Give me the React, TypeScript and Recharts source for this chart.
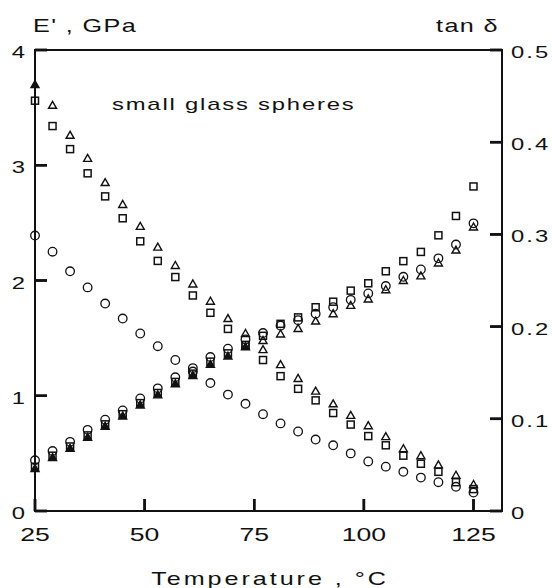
import React from "react";
import { ScatterChart, Scatter, XAxis, YAxis, ReferenceLine } from "recharts";

// Temperature, °C
const temps = [25, 29, 33, 37, 41, 45, 49, 53, 57, 61, 65, 69, 73, 77, 81, 85, 89, 93, 97, 101, 105, 109, 113, 117, 121, 125];

// E', GPa
const eTriangle = [3.70, 3.52, 3.26, 3.06, 2.85, 2.66, 2.47, 2.29, 2.13, 1.97, 1.82, 1.67, 1.54, 1.40, 1.27, 1.15, 1.04, 0.93, 0.83, 0.74, 0.645, 0.54, 0.48, 0.40, 0.31, 0.23];
const eSquare = [3.56, 3.34, 3.14, 2.93, 2.73, 2.54, 2.34, 2.17, 2.03, 1.87, 1.72, 1.58, 1.44, 1.31, 1.17, 1.06, 0.96, 0.85, 0.75, 0.65, 0.57, 0.48, 0.41, 0.34, 0.25, 0.19];
const eCircle = [2.39, 2.25, 2.08, 1.94, 1.80, 1.67, 1.54, 1.43, 1.31, 1.21, 1.11, 1.01, 0.93, 0.84, 0.76, 0.69, 0.62, 0.57, 0.50, 0.43, 0.385, 0.34, 0.29, 0.25, 0.21, 0.16];

// tan delta
const tCircle = [0.055, 0.065, 0.075, 0.088, 0.099, 0.109, 0.122, 0.133, 0.145, 0.155, 0.167, 0.176, 0.186, 0.193, 0.201, 0.207, 0.214, 0.221, 0.229, 0.236, 0.244, 0.254, 0.262, 0.274, 0.289, 0.312];
const tSquare = [0.048, 0.060, 0.070, 0.082, 0.094, 0.105, 0.117, 0.128, 0.140, 0.149, 0.162, 0.171, 0.180, 0.190, 0.203, 0.210, 0.221, 0.227, 0.239, 0.247, 0.260, 0.271, 0.281, 0.299, 0.320, 0.352];
const tTriangle = [0.046, 0.058, 0.068, 0.080, 0.092, 0.103, 0.115, 0.126, 0.138, 0.147, 0.159, 0.168, 0.178, 0.185, 0.192, 0.198, 0.206, 0.214, 0.223, 0.230, 0.240, 0.250, 0.255, 0.269, 0.283, 0.308];

const xTicks = [25, 50, 75, 100, 125];
const topTicks = [50, 75, 100, 125];
const leftTicks = [0, 1, 2, 3, 4];
const rightTicks = [0, 0.1, 0.2, 0.3, 0.4, 0.5];

const FONT = "'Liberation Sans', Arial, Helvetica, sans-serif";
const SX = 1.4;
const TICK_LEN = 12;
const INK = "#111";
const TW = 2.5;

const toPts = (vals: number[]) => temps.map((t, i) => ({ x: t, y: vals[i] }));

const Stretch = ({ x, y, anchor, size, spacing = 0, children }: any) => (
  <text
    x={0}
    y={0}
    transform={`translate(${x} ${y}) scale(${SX} 1)`}
    textAnchor={anchor}
    fontSize={size}
    fontFamily={FONT}
    letterSpacing={spacing}
    fill={INK}
  >
    {children}
  </text>
);

const AxisTick = (props: any) => {
  const { x, y, payload, side } = props;
  const v = payload.value;
  if (side === "left") {
    return (
      <g>
        <line x1={x} y1={y} x2={x + TICK_LEN} y2={y} stroke={INK} strokeWidth={TW} />
        <Stretch x={x - 10} y={y + 8} anchor="end" size={17}>{String(v)}</Stretch>
      </g>
    );
  }
  if (side === "right") {
    return (
      <g>
        <line x1={x - TICK_LEN} y1={y} x2={x} y2={y} stroke={INK} strokeWidth={TW} />
        <Stretch x={x + 9} y={y + 8} anchor="start" size={17} spacing={1.5}>{String(v)}</Stretch>
      </g>
    );
  }
  if (side === "bottom") {
    return (
      <g>
        <line x1={x} y1={y - TICK_LEN} x2={x} y2={y} stroke={INK} strokeWidth={TW} />
        <Stretch x={x} y={y + 29.5} anchor="middle" size={19}>{String(v)}</Stretch>
      </g>
    );
  }
  return (
    <g>
      <line x1={x} y1={y} x2={x} y2={y + TICK_LEN} stroke={INK} strokeWidth={TW} />
    </g>
  );
};

const makeTri = (filledUpTo: number) => (p: any) => {
  const { cx, cy, payload } = p;
  const filled = payload && payload.x <= filledUpTo;
  return (
    <polygon
      points={`${cx},${cy - 4} ${cx - 4},${cy + 3} ${cx + 4},${cy + 3}`}
      fill={filled ? INK : "none"}
      stroke={INK}
      strokeWidth={1.4}
    />
  );
};
const Sq = (p: any) => {
  const { cx, cy } = p;
  return <rect x={cx - 3.5} y={cy - 3.5} width={7} height={7} fill="none" stroke={INK} strokeWidth={1.5} />;
};
const Circ = (p: any) => {
  const { cx, cy } = p;
  return <circle cx={cx} cy={cy} r={4.3} fill="none" stroke={INK} strokeWidth={1.3} />;
};

const axisCommon = {
  axisLine: { stroke: INK, strokeWidth: 2 },
  tickLine: { stroke: INK, strokeWidth: TW },
  tickSize: -TICK_LEN,
  tickMargin: TICK_LEN,
  interval: 0 as const,
};

export default function App() {
  return (
    <div style={{ position: "absolute", left: 0, top: 0, width: 552, height: 588, background: "#fff" }}>
      <svg width={552} height={588} style={{ position: "absolute", left: 0, top: 0, pointerEvents: "none" }}>
        <rect x={35} y={50} width={467} height={461} fill="none" stroke={INK} strokeWidth={2} />
        <Stretch x={33} y={32} anchor="start" size={18} spacing={1}>E' , GPa</Stretch>
        <Stretch x={499} y={32} anchor="end" size={18} spacing={1}>tan δ</Stretch>
        <Stretch x={112} y={110} anchor="start" size={17} spacing={1.3}>small glass spheres</Stretch>
        <Stretch x={270} y={585} anchor="middle" size={18} spacing={2.1}>Temperature , °C</Stretch>
      </svg>
      <ScatterChart width={552} height={588} margin={{ top: 49, right: 0, bottom: 0, left: 0 }}>
        <XAxis
          {...axisCommon}
          xAxisId="bottom"
          dataKey="x"
          type="number"
          domain={[25, 131.5]}
          ticks={xTicks}
          orientation="bottom"
          height={77}
          tick={(p: any) => <AxisTick {...p} side="bottom" />}
        />
        <XAxis
          {...axisCommon}
          xAxisId="top"
          dataKey="x"
          type="number"
          domain={[25, 131.5]}
          ticks={topTicks}
          orientation="top"
          height={1}
          tick={(p: any) => <AxisTick {...p} side="top" />}
        />
        <YAxis
          {...axisCommon}
          yAxisId="left"
          dataKey="y"
          type="number"
          domain={[0, 4]}
          ticks={leftTicks}
          orientation="left"
          width={35}
          tick={(p: any) => <AxisTick {...p} side="left" />}
        />
        <YAxis
          {...axisCommon}
          yAxisId="right"
          dataKey="y"
          type="number"
          domain={[0, 0.5]}
          ticks={rightTicks}
          orientation="right"
          width={50}
          tick={(p: any) => <AxisTick {...p} side="right" />}
        />
        <ReferenceLine y={4} xAxisId="bottom" yAxisId="left" stroke={INK} strokeWidth={2} />
        <Scatter name="E' triangle" data={toPts(eTriangle)} xAxisId="bottom" yAxisId="left" shape={makeTri(25)} isAnimationActive={false} />
        <Scatter name="E' square" data={toPts(eSquare)} xAxisId="bottom" yAxisId="left" shape={Sq} isAnimationActive={false} />
        <Scatter name="E' circle" data={toPts(eCircle)} xAxisId="bottom" yAxisId="left" shape={Circ} isAnimationActive={false} />
        <Scatter name="tan triangle" data={toPts(tTriangle)} xAxisId="bottom" yAxisId="right" shape={makeTri(73)} isAnimationActive={false} />
        <Scatter name="tan square" data={toPts(tSquare)} xAxisId="bottom" yAxisId="right" shape={Sq} isAnimationActive={false} />
        <Scatter name="tan circle" data={toPts(tCircle)} xAxisId="bottom" yAxisId="right" shape={Circ} isAnimationActive={false} />
      </ScatterChart>
    </div>
  );
}
